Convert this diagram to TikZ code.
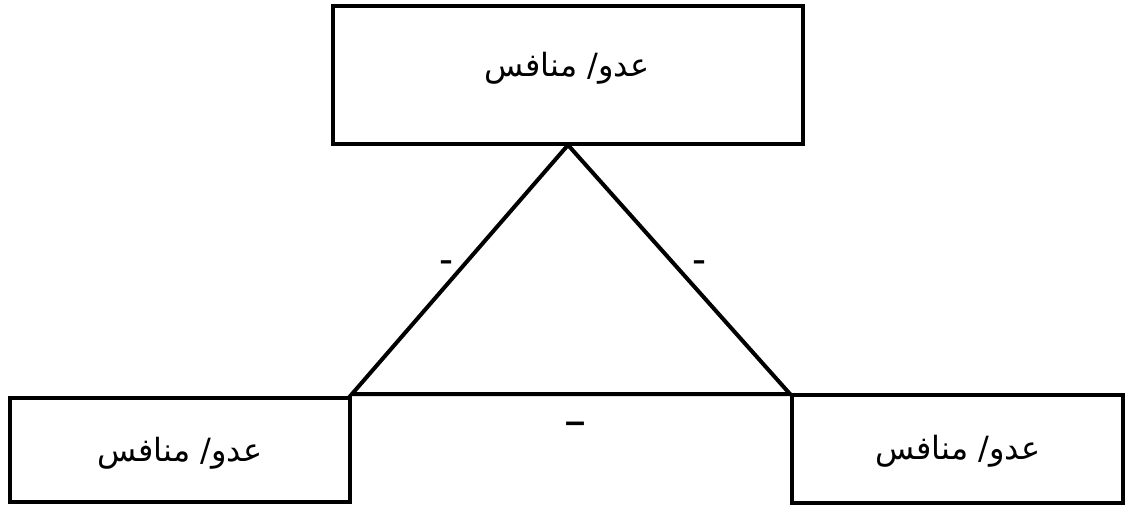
\documentclass[tikz,border=0pt]{standalone}
\usepackage{fontspec}
\TeXXeTstate=1
\newfontfamily\arabicfont[Script=Arabic]{DejaVu Sans}
\setmainfont{Liberation Sans}
\begin{document}
\begin{tikzpicture}[x=1pt,y=-1pt,
  box/.style={draw=black,line width=4pt,minimum width=#1,inner sep=0pt},
  lbl/.style={font=\arabicfont\fontsize{32}{38}\selectfont,inner sep=0pt},
  sign/.style={font=\fontsize{42}{48}\selectfont,inner sep=0pt},
  edge/.style={line width=4pt,line join=miter}]
\useasboundingbox (0,0) rectangle (1125,507);
\node[box=470pt,minimum height=138pt] (top) at (568,75) {};
\node[box=340pt,minimum height=104pt] (left) at (180,450) {};
\node[box=331pt,minimum height=108pt] (right) at (957,449) {};
\node[lbl] (ttop) at (567,68) {\beginR عدو/ منافس\endR};
\node[lbl] (tleft) at (180,453) {\beginR عدو/ منافس\endR};
\node[lbl] (tright) at (958,451) {\beginR عدو/ منافس\endR};
\coordinate (apex) at (568,145);
\coordinate (bl) at (352,394);
\coordinate (br) at (790,394);
\draw[edge] (apex) -- (bl) -- (br) -- cycle;
\node[sign] (s1) at (446,267) {-};
\node[sign] (s2) at (699,267) {-};
\node[sign,font=\bfseries\fontsize{36}{40}\selectfont] (s3) at (576,428) {–};
\end{tikzpicture}
\end{document}
